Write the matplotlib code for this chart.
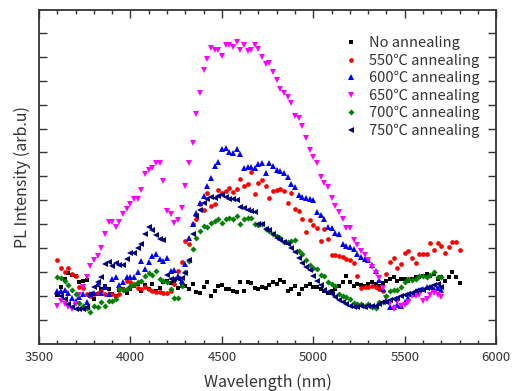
import numpy as np
import matplotlib
matplotlib.use('Agg')
import matplotlib.pyplot as plt
from matplotlib.ticker import MultipleLocator, NullFormatter

plt.rcParams['font.family'] = ['Noto Sans CJK JP', 'DejaVu Sans']

# PL spectra, 20 nm steps starting at 3600 nm (intensity in arb. units)
start_nm = 3600
step_nm = 20

no_anneal = [
    2.05, 2.4, 2.7, 2.96, 2.9, 2.85, 2.6, 2.64, 2.68, 2.0,
    1.9, 2.1, 2.29, 2.43, 2.3, 2.1, 2.0, 2.25, 2.29, 2.15,
    2.3, 2.43, 2.5, 2.2, 2.45, 2.3, 2.5, 2.22, 2.35, 2.57,
    2.64, 2.55, 2.64, 2.35, 2.43, 2.43, 2.3, 2.5, 2.18, 2.15,
    2.4, 2.57, 2.01, 2.2, 2.43, 2.47, 2.29, 2.3, 2.22, 2.18,
    2.57, 2.22, 2.6, 2.54, 2.35, 2.29, 2.36, 2.33, 2.45, 2.57,
    2.5, 2.68, 2.6, 2.22, 2.29, 2.43, 2.08, 2.3, 2.43, 2.5,
    2.4, 2.36, 2.29, 2.22, 2.15, 2.2, 2.3, 2.43, 2.6, 2.85,
    2.6, 2.43, 2.5, 2.45, 2.43, 2.5, 2.57, 2.5, 2.43, 2.55,
    2.64, 2.7, 2.78, 2.64, 2.7, 2.71, 2.64, 2.7, 2.78, 2.8,
    2.85, 2.92, 2.85, 2.92, 2.71, 2.78, 2.64, 2.8, 3.01, 2.78,
    2.54]

anneal_550 = [
    3.5, 3.19, 3.01, 3.19, 2.92, 2.85, 2.36, 2.32, 2.1, 2.01,
    2.1, 2.15, 2.22, 2.1, 2.08, 2.08, 2.0, 2.08, 2.3, 2.64,
    2.57, 2.45, 2.35, 2.29, 2.36, 2.29, 2.22, 2.18, 2.18, 2.15,
    2.15, 2.2, 2.5, 3.06, 3.43, 4.31, 4.17, 5.0, 5.24, 5.83,
    5.6, 6.32, 5.76, 5.83, 6.43, 6.32, 6.39, 6.53, 6.35, 6.46,
    6.88, 6.6, 6.7, 7.2, 6.25, 6.71, 6.85, 6.6, 6.11, 6.39,
    6.43, 6.49, 6.39, 5.88, 6.32, 5.65, 5.56, 5.21, 4.67, 5.2,
    4.96, 4.86, 4.3, 4.82, 4.4, 3.71, 3.7, 3.68, 3.62, 3.56,
    3.5, 3.4, 2.86, 2.32, 2.4, 2.38, 2.42, 2.4, 2.3, 2.22,
    2.92, 3.43, 3.61, 3.19, 3.33, 3.82, 3.89, 3.6, 3.4, 3.75,
    3.77, 3.77, 4.21, 3.93, 4.21, 4.1, 3.82, 4.07, 4.26, 4.24,
    3.92]

anneal_600 = [
    2.22, 2.22, 2.26, 2.15, 1.94, 1.8, 1.95, 2.08, 1.74, 2.08,
    2.15, 2.5, 2.15, 2.36, 2.08, 2.71, 2.78, 2.46, 2.6, 2.78,
    2.78, 2.78, 3.0, 3.47, 3.15, 3.43, 3.68, 3.75, 3.57, 3.47,
    3.61, 3.06, 3.1, 2.85, 2.64, 3.33, 4.44, 5.0, 5.46, 5.9,
    6.2, 6.6, 6.94, 7.43, 7.6, 8.15, 8.19, 8.01, 7.96, 8.15,
    7.94, 7.36, 7.39, 7.39, 7.36, 7.5, 7.57, 7.13, 7.57, 7.43,
    7.26, 7.22, 7.15, 6.98, 6.67, 6.57, 6.21, 6.15, 6.1, 6.05,
    6.0, 5.51, 5.38, 5.24, 4.9, 4.86, 4.63, 4.6, 4.17, 4.1,
    4.05, 3.97, 3.78, 3.65, 3.57, 3.51, 3.3, 3.06, 2.66, 2.3,
    1.8, 1.55, 1.53, 1.63, 1.6, 1.76, 1.94, 2.08, 2.2, 2.25,
    2.3, 2.36, 2.4, 2.3, 2.35, 2.26]

anneal_650 = [
    1.6, 1.8, 1.67, 1.55, 1.46, 1.67, 2.05, 2.4, 2.78, 3.26,
    3.5, 3.68, 4.03, 4.6, 5.1, 5.1, 4.9, 5.1, 5.42, 5.63,
    5.83, 6.07, 6.07, 6.42, 7.08, 7.26, 7.36, 7.57, 7.57, 6.8,
    5.56, 5.42, 5.07, 5.2, 5.69, 6.6, 7.54, 8.4, 9.6, 10.49,
    11.46, 11.9, 12.36, 12.26, 12.29, 12.01, 12.47, 12.5, 12.39, 12.6,
    12.26, 12.47, 12.22, 12.26, 12.47, 12.33, 11.99, 11.71, 11.74, 11.35,
    11.01, 10.65, 10.49, 10.32, 10.07, 9.51, 9.44, 9.1, 8.61, 8.1,
    7.83, 7.58, 6.97, 6.73, 6.55, 6.11, 5.78, 5.5, 5.21, 4.85,
    4.85, 4.33, 4.12, 3.89, 3.7, 3.5, 3.23, 2.97, 2.76, 2.35,
    1.94, 1.7, 1.46, 1.75, 1.6, 1.63, 1.76, 1.99, 1.99, 2.04,
    1.8, 1.87, 2.04, 2.13, 2.04, 1.97]

anneal_700 = [
    2.78, 2.74, 2.64, 2.45, 2.25, 2.1, 1.7, 1.6, 1.49, 1.35,
    1.6, 1.53, 1.76, 1.6, 1.8, 1.8, 1.88, 2.29, 2.25, 2.29,
    2.43, 2.5, 2.57, 2.65, 2.85, 2.96, 2.9, 3.03, 2.71, 2.64,
    2.57, 2.29, 1.94, 1.94, 2.43, 2.99, 3.47, 3.96, 4.44, 4.72,
    4.93, 4.9, 5.07, 5.14, 5.21, 5.07, 5.21, 5.28, 5.21, 5.35,
    5.0, 5.21, 5.28, 5.28, 5.0, 4.96, 5.0, 4.82, 4.72, 4.6,
    4.51, 4.44, 4.26, 4.24, 4.31, 4.35, 3.89, 3.75, 3.5, 3.3,
    3.19, 3.15, 2.9, 2.85, 2.6, 2.5, 2.43, 2.08, 2.01, 1.95,
    1.9, 1.71, 1.67, 1.67, 1.6, 1.65, 1.55, 1.49, 1.74, 1.76,
    2.0, 2.22, 2.26, 2.26, 2.4, 2.57, 2.7, 2.68, 2.72, 2.85,
    2.85, 2.78, 2.9, 2.99, 2.78, 2.78]

anneal_750 = [
    2.08, 2.0, 1.88, 1.67, 1.53, 1.46, 1.47, 1.47, 1.53, 2.08,
    2.36, 2.6, 2.78, 3.33, 3.43, 3.26, 3.38, 3.31, 3.31, 3.57,
    3.82, 3.82, 4.03, 4.17, 4.6, 4.9, 4.75, 4.55, 4.4, 4.36,
    2.9, 2.71, 2.71, 2.71, 2.75, 2.95, 3.5, 4.6, 5.35, 5.6,
    5.9, 6.04, 6.15, 6.11, 6.18, 6.21, 6.15, 6.07, 6.07, 6.0,
    5.74, 5.69, 5.6, 5.56, 5.51, 5.0, 5.0, 4.82, 4.76, 4.58,
    4.44, 4.35, 4.25, 4.17, 4.0, 3.85, 3.6, 3.38, 3.2, 3.1,
    2.85, 2.65, 2.45, 2.25, 2.18, 2.1, 1.95, 1.82, 1.76, 1.67,
    1.6, 1.55, 1.55, 1.57, 1.53, 1.58, 1.6, 1.57, 1.67, 1.74,
    1.76, 1.85, 1.9, 1.94, 1.99, 2.04, 2.08, 2.13, 2.2, 2.26,
    2.26, 2.32, 2.4, 2.45, 2.5, 2.4]

labels = ['No annealing', '550\u2103 annealing', '600\u2103 annealing',
          '650\u2103 annealing', '700\u2103 annealing', '750\u2103 annealing']
series = [no_anneal, anneal_550, anneal_600, anneal_650, anneal_700, anneal_750]
colors = ['#000000', '#ff0000', '#0000ff', '#ff00ff', '#008000', '#000080']
markers = ['s', 'o', '^', 'v', 'D', '<']
sizes = [3.4, 3.4, 3.8, 3.8, 3.1, 3.8]

fig = plt.figure(figsize=(5.12, 3.91), dpi=100)
ax = fig.add_axes([0.0762, 0.1202, 0.893, 0.8542])

for vals, lab, c, m, s in zip(series, labels, colors, markers, sizes):
    x = start_nm + step_nm * np.arange(len(vals))
    ax.plot(x, vals, linestyle='none', marker=m, color=c, markersize=s,
            markeredgewidth=0, label=lab)

ax.set_xlim(3500, 6000)
ax.set_ylim(0, 13.95)
ax.xaxis.set_major_locator(MultipleLocator(500))
ax.xaxis.set_minor_locator(MultipleLocator(100))
ax.set_yticks([i for i in range(1, 14)])
ax.yaxis.set_major_formatter(NullFormatter())
ax.tick_params(which='both', direction='in', top=True, right=True,
               color='#333333', labelcolor='#333333', labelsize=9.5)
ax.tick_params(which='major', length=6, width=1, pad=5)
ax.tick_params(which='minor', length=3, width=1)
for sp in ax.spines.values():
    sp.set_color('#333333')
    sp.set_linewidth(1.3)

ax.set_xlabel('Wavelength (nm)', fontsize=11.5, color='#333333', labelpad=7)
ax.set_ylabel('PL Intensity (arb.u)', fontsize=11.5, color='#333333', labelpad=1)

leg = ax.legend(loc='upper left', bbox_to_anchor=(0.647, 0.952), frameon=False,
                fontsize=10.5, handlelength=0.8, handletextpad=0.85,
                labelspacing=0.22, borderpad=0.2)
for t in leg.get_texts():
    t.set_color('#333333')

fig.savefig('out.png', dpi=100)
